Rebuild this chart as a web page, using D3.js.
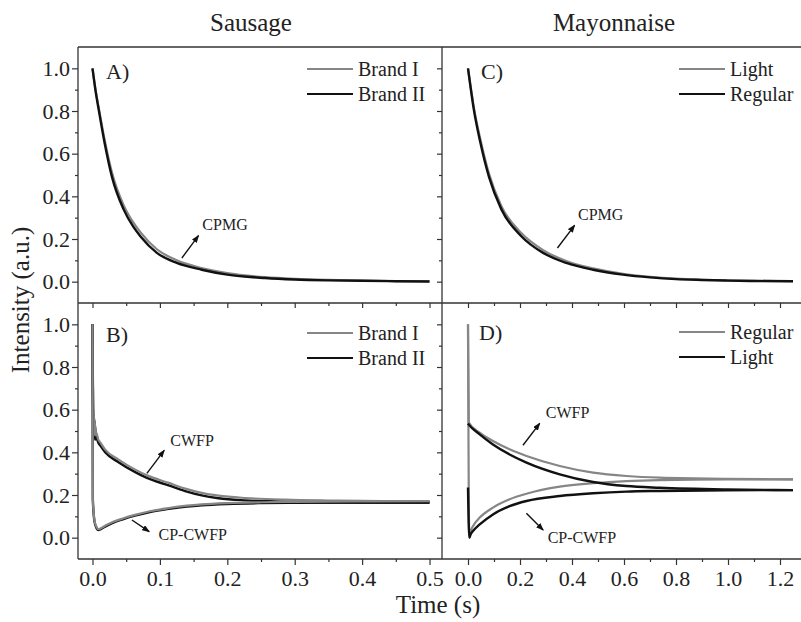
<!DOCTYPE html>
<html>
<head>
<meta charset="utf-8">
<script src="https://cdn.jsdelivr.net/npm/d3@7"></script>
<style>
  body { margin: 0; background: #fff; }
  svg text { font-family: "Liberation Serif", "DejaVu Serif", serif; }
</style>
</head>
<body>
<div id="chart"></div>
<script>
// ---- data ----
// A) Sausage, CPMG
var cpmgSausageTime = [0, 0.005, 0.009, 0.018, 0.029, 0.046, 0.06, 0.071, 0.0955, 0.125, 0.162, 0.2, 0.256, 0.3, 0.35, 0.4, 0.45, 0.5];
var cpmgBrandI  = [1.0, 0.89, 0.82, 0.665, 0.51, 0.36, 0.28, 0.232, 0.152, 0.100, 0.064, 0.040, 0.021, 0.013, 0.008, 0.005, 0.003, 0.002];
var cpmgBrandII = [1.0, 0.885, 0.81, 0.65, 0.49, 0.34, 0.26, 0.213, 0.135, 0.088, 0.056, 0.033, 0.017, 0.010, 0.006, 0.004, 0.002, 0.001];

// B) Sausage, CWFP and CP-CWFP
var cwfpSausageTime = [0, 0.0005, 0.001, 0.0015, 0.002, 0.0025, 0.003, 0.0035, 0.004, 0.005, 0.006, 0.008, 0.012, 0.0188, 0.0386, 0.0634, 0.0807, 0.113, 0.1375, 0.162, 0.187, 0.227, 0.286, 0.35, 0.4, 0.5];
var cwfpBrandI  = [1.0, 0.80, 0.66, 0.53, 0.60, 0.49, 0.56, 0.48, 0.53, 0.48, 0.49, 0.465, 0.445, 0.413, 0.366, 0.319, 0.292, 0.257, 0.230, 0.210, 0.197, 0.186, 0.178, 0.174, 0.172, 0.171];
var cwfpBrandII = [1.0, 0.72, 0.60, 0.50, 0.58, 0.47, 0.55, 0.46, 0.52, 0.46, 0.48, 0.45, 0.43, 0.40, 0.354, 0.307, 0.28, 0.245, 0.218, 0.198, 0.185, 0.175, 0.169, 0.166, 0.165, 0.165];
var cpSausageTime = [0, 0.0005, 0.003, 0.006, 0.009, 0.013, 0.02, 0.03, 0.045, 0.063, 0.085, 0.113, 0.14, 0.162, 0.2, 0.25, 0.3, 0.4, 0.5];
var cpBrandI  = [1.0, 0.18, 0.08, 0.05, 0.04, 0.045, 0.058, 0.073, 0.09, 0.107, 0.124, 0.139, 0.150, 0.156, 0.162, 0.166, 0.168, 0.170, 0.171];
var cpBrandII = [1.0, 0.18, 0.075, 0.045, 0.036, 0.041, 0.054, 0.069, 0.086, 0.103, 0.120, 0.135, 0.146, 0.152, 0.158, 0.162, 0.164, 0.165, 0.165];

// C) Mayonnaise, CPMG
var cpmgMayoTime = [0, 0.01, 0.022, 0.048, 0.081, 0.128, 0.205, 0.289, 0.378, 0.481, 0.596, 0.7, 0.8, 0.9, 1.0, 1.1, 1.25];
var cpmgLight   = [1.0, 0.915, 0.82, 0.665, 0.505, 0.355, 0.228, 0.148, 0.097, 0.062, 0.037, 0.023, 0.014, 0.009, 0.006, 0.004, 0.002];
var cpmgRegular = [1.0, 0.91, 0.81, 0.65, 0.49, 0.34, 0.213, 0.135, 0.088, 0.056, 0.033, 0.020, 0.012, 0.008, 0.005, 0.003, 0.002];

// D) Mayonnaise, CWFP and CP-CWFP
var cwfpMayoTime = [0, 0.003, 0.045, 0.096, 0.16, 0.225, 0.353, 0.481, 0.609, 0.737, 0.994, 1.25];
var cwfpRegular = [1.0, 0.54, 0.492, 0.453, 0.414, 0.383, 0.336, 0.305, 0.289, 0.281, 0.276, 0.273];
var cwfpLight   = [0.535, 0.53, 0.484, 0.437, 0.39, 0.352, 0.297, 0.261, 0.242, 0.234, 0.226, 0.223];
var cpMayoTime = [0, 0.005, 0.01, 0.019, 0.045, 0.096, 0.16, 0.225, 0.353, 0.481, 0.609, 0.737, 0.994, 1.25];
var cpRegular = [1.0, 0.0, 0.03, 0.054, 0.094, 0.141, 0.180, 0.206, 0.239, 0.255, 0.265, 0.27, 0.273, 0.273];
var cpLight   = [0.235, 0.0, 0.015, 0.031, 0.062, 0.109, 0.148, 0.172, 0.195, 0.208, 0.216, 0.219, 0.222, 0.223];

// ticks
var yTicks = [0, 0.2, 0.4, 0.6, 0.8, 1.0];
var yMinor = [0.1, 0.3, 0.5, 0.7, 0.9];
var xSausageTicks = [0, 0.1, 0.2, 0.3, 0.4, 0.5];
var xSausageMinor = [0.05, 0.15, 0.25, 0.35, 0.45];
var xMayoTicks = [0, 0.2, 0.4, 0.6, 0.8, 1.0, 1.2];
var xMayoMinor = [0.1, 0.3, 0.5, 0.7, 0.9, 1.1];

var GRAY = "#868686", BLACK = "#111";
var SERIF = "Liberation Serif, DejaVu Serif, serif";

// ---- layout ----
var W = 801, H = 622;
var edgeL = 78, edgeMid = 442, edgeR = 806, edgeT = 47, edgeMidY = 303, edgeB = 559;

var svg = d3.select("#chart").append("svg")
	.attr("width", W)
	.attr("height", H)
	.attr("font-family", SERIF);

var xS = d3.scaleLinear().domain([-0.0215, 0.5185]).range([edgeL, edgeMid]);
var xM = d3.scaleLinear().domain([-0.1, 1.3]).range([edgeMid, edgeR]);
var yTop = d3.scaleLinear().domain([-0.1, 1.1]).range([edgeMidY, edgeT]);
var yBot = d3.scaleLinear().domain([-0.1, 1.1]).range([edgeB, edgeMidY]);

var fmt = d3.format(".1f");

function styleAxis(g) {
	g.attr("font-family", SERIF).attr("font-size", 22);
	g.select(".domain").remove();
	g.selectAll("line").attr("stroke", "#333").attr("stroke-width", 1.2);
	g.selectAll("text").attr("fill", "#222");
}

// y axes (ticks outward, left)
[yTop, yBot].forEach(function(y) {
	svg.append("g").attr("transform", `translate(${edgeL},0)`)
		.call(d3.axisLeft(y).tickValues(yTicks).tickSize(6).tickPadding(2).tickFormat(fmt))
		.call(styleAxis);
	svg.append("g").attr("transform", `translate(${edgeL},0)`)
		.call(d3.axisLeft(y).tickValues(yMinor).tickSize(3).tickFormat(""))
		.call(styleAxis);
	svg.append("g").attr("transform", `translate(${edgeMid},0)`)
		.call(d3.axisLeft(y).tickValues(yTicks).tickSize(5).tickFormat(""))
		.call(styleAxis);
	svg.append("g").attr("transform", `translate(${edgeMid},0)`)
		.call(d3.axisLeft(y).tickValues(yMinor).tickSize(3).tickFormat(""))
		.call(styleAxis);
});

// x axes
[[xS, xSausageTicks, xSausageMinor], [xM, xMayoTicks, xMayoMinor]].forEach(function(a) {
	svg.append("g").attr("transform", `translate(0,${edgeB})`)
		.call(d3.axisBottom(a[0]).tickValues(a[1]).tickSize(6).tickPadding(5).tickFormat(fmt))
		.call(styleAxis);
	svg.append("g").attr("transform", `translate(0,${edgeB})`)
		.call(d3.axisBottom(a[0]).tickValues(a[2]).tickSize(3).tickFormat(""))
		.call(styleAxis);
	svg.append("g").attr("transform", `translate(0,${edgeMidY})`)
		.call(d3.axisBottom(a[0]).tickValues(a[1]).tickSize(5).tickFormat(""))
		.call(styleAxis);
	svg.append("g").attr("transform", `translate(0,${edgeMidY})`)
		.call(d3.axisBottom(a[0]).tickValues(a[2]).tickSize(3).tickFormat(""))
		.call(styleAxis);
});

// frame
var frame = svg.append("g").attr("stroke", "#333").attr("stroke-width", 1.3).attr("fill", "none");
frame.append("line").attr("x1", edgeL).attr("x2", edgeR).attr("y1", edgeT).attr("y2", edgeT);
frame.append("line").attr("x1", edgeL).attr("x2", edgeR).attr("y1", edgeMidY).attr("y2", edgeMidY);
frame.append("line").attr("x1", edgeL).attr("x2", edgeR).attr("y1", edgeB).attr("y2", edgeB);
frame.append("line").attr("x1", edgeL).attr("x2", edgeL).attr("y1", edgeT).attr("y2", edgeB);
frame.append("line").attr("x1", edgeMid).attr("x2", edgeMid).attr("y1", edgeT).attr("y2", edgeB);

// curves
function drawSeries(x, y, times, values, color) {
	var pts = times.map((t, i) => [t, values[i]]);
	svg.append("path")
		.datum(pts)
		.attr("fill", "none")
		.attr("stroke", color)
		.attr("stroke-width", color === BLACK ? 2.4 : 2.2)
		.attr("stroke-linejoin", "round")
		.attr("d", d3.line().x(d => x(d[0])).y(d => y(d[1])).curve(d3.curveMonotoneX));
}

// A
drawSeries(xS, yTop, cpmgSausageTime, cpmgBrandI, GRAY);
drawSeries(xS, yTop, cpmgSausageTime, cpmgBrandII, BLACK);
// B
drawSeries(xS, yBot, cwfpSausageTime, cwfpBrandII, BLACK);
drawSeries(xS, yBot, cwfpSausageTime, cwfpBrandI, GRAY);
drawSeries(xS, yBot, cpSausageTime, cpBrandII, BLACK);
drawSeries(xS, yBot, cpSausageTime, cpBrandI, GRAY);
// C
drawSeries(xM, yTop, cpmgMayoTime, cpmgLight, GRAY);
drawSeries(xM, yTop, cpmgMayoTime, cpmgRegular, BLACK);
// D
drawSeries(xM, yBot, cwfpMayoTime, cwfpRegular, GRAY);
drawSeries(xM, yBot, cpMayoTime, cpRegular, GRAY);
drawSeries(xM, yBot, cwfpMayoTime, cwfpLight, BLACK);
drawSeries(xM, yBot, cpMayoTime, cpLight, BLACK);

// legends
function legend(x0, y0, labels, colors) {
	labels.forEach(function(lab, i) {
		var yy = y0 + i * 25;
		svg.append("line").attr("x1", x0).attr("x2", x0 + 46).attr("y1", yy).attr("y2", yy)
			.attr("stroke", colors[i]).attr("stroke-width", 2.2);
		svg.append("text").attr("x", x0 + 51).attr("y", yy).attr("dy", "0.35em")
			.attr("font-size", 20).attr("fill", "#222").text(lab);
	});
}
legend(307, 69, ["Brand I", "Brand II"], [GRAY, BLACK]);
legend(307, 333, ["Brand I", "Brand II"], [GRAY, BLACK]);
legend(679, 69, ["Light", "Regular"], [GRAY, BLACK]);
legend(679, 332, ["Regular", "Light"], [GRAY, BLACK]);

// panel letters
svg.append("text").attr("x", 106).attr("y", 79).attr("font-size", 22).attr("fill", "#222").text("A)");
svg.append("text").attr("x", 106).attr("y", 342).attr("font-size", 22).attr("fill", "#222").text("B)");
svg.append("text").attr("x", 481).attr("y", 79).attr("font-size", 22).attr("fill", "#222").text("C)");
svg.append("text").attr("x", 479).attr("y", 340).attr("font-size", 22).attr("fill", "#222").text("D)");

// annotations (data units)
svg.append("defs").append("marker")
	.attr("id", "ah")
	.attr("viewBox", "0 0 8 6")
	.attr("refX", 7).attr("refY", 3)
	.attr("markerWidth", 8).attr("markerHeight", 6)
	.attr("markerUnits", "userSpaceOnUse")
	.attr("orient", "auto")
	.append("path").attr("d", "M0,0L8,3L0,6Z").attr("fill", "#111");

function note(x, y, from, to, at, label) {
	svg.append("line")
		.attr("x1", x(from[0])).attr("y1", y(from[1]))
		.attr("x2", x(to[0])).attr("y2", y(to[1]))
		.attr("stroke", "#111").attr("stroke-width", 1.4)
		.attr("marker-end", "url(#ah)");
	svg.append("text").attr("x", x(at[0])).attr("y", y(at[1]))
		.attr("font-size", 16).attr("fill", "#222").text(label);
}
note(xS, yTop, [0.1326, 0.111], [0.1573, 0.216], [0.163, 0.242], "CPMG");
note(xM, yTop, [0.344, 0.158], [0.410, 0.264], [0.423, 0.290], "CPMG");
note(xS, yBot, [0.0807, 0.301], [0.1064, 0.409], [0.1153, 0.428], "CWFP");
note(xS, yBot, [0.0585, 0.083], [0.0841, 0.028], [0.098, -0.012], "CP-CWFP");
note(xM, yBot, [0.2115, 0.433], [0.2758, 0.536], [0.299, 0.562], "CWFP");
note(xM, yBot, [0.2246, 0.114], [0.289, 0.036], [0.3065, -0.025], "CP-CWFP");

// titles and axis labels
svg.append("text").attr("x", 251).attr("y", 31).attr("text-anchor", "middle")
	.attr("font-size", 25).attr("fill", "#222").text("Sausage");
svg.append("text").attr("x", 614).attr("y", 31).attr("text-anchor", "middle")
	.attr("font-size", 25).attr("fill", "#222").text("Mayonnaise");
svg.append("text").attr("transform", "translate(29,300) rotate(-90)").attr("text-anchor", "middle")
	.attr("font-size", 25).attr("fill", "#222").text("Intensity (a.u.)");
svg.append("text").attr("x", 438).attr("y", 613).attr("text-anchor", "middle")
	.attr("font-size", 25).attr("fill", "#222").text("Time (s)");
</script>
</body>
</html>
